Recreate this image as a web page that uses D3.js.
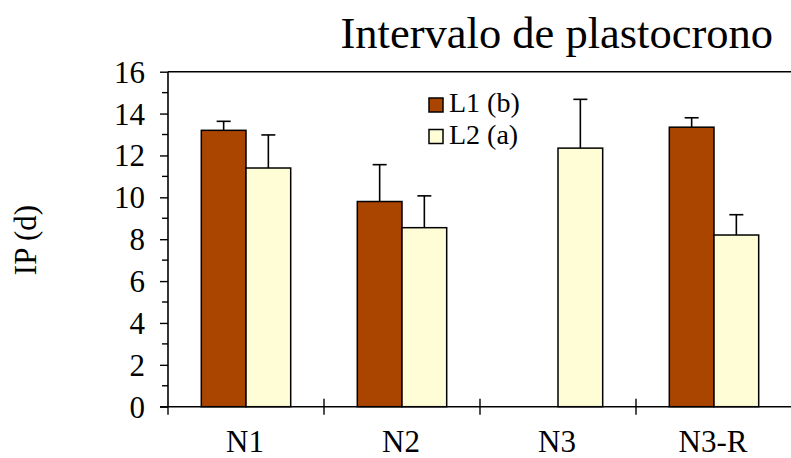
<!DOCTYPE html>
<html>
<head>
<meta charset="utf-8">
<script src="https://cdn.jsdelivr.net/npm/d3@7"></script>
<style>
  html, body { margin: 0; padding: 0; background: #fff; }
  svg { display: block; }
  text { font-family: "Liberation Serif", "Times New Roman", serif; fill: #000; }
</style>
</head>
<body>
<svg id="chart" width="791" height="458"></svg>
<script>
// Plastochron interval (days) per node group, two lines
const categories = ["N1", "N2", "N3", "N3-R"];
const seriesNames = ["L1 (b)", "L2 (a)"];
const l1Values = [13.2, 9.8, 0, 13.35];
const l2Values = [11.4, 8.55, 12.35, 8.2];
const l1Errors = [0.43, 1.76, 0, 0.45];
const l2Errors = [1.58, 1.52, 2.33, 0.97];
const yTicks = [0, 2, 4, 6, 8, 10, 12, 14, 16];
const yMinorTicks = [1, 3, 5, 7, 9, 11, 13, 15];
const colors = ["#AA4500", "#FFFDD6"];

const serif = "'Liberation Serif', 'Times New Roman', serif";
const svg = d3.select("#chart");

const plotLeft = 168, plotRight = 792, plotTop = 71.7, plotBottom = 406.7;

const x = d3.scaleBand().domain(categories).range([plotLeft, plotRight]).padding(0);
const y = d3.scaleLinear().domain([0, 16]).range([plotBottom, plotTop]);

const barW = x.bandwidth() * 0.2865;
const groupOffset = (x.bandwidth() - 2 * barW) / 2;

const rows = categories.map((c, i) => ({
  cat: c,
  vals: [
    { s: 0, v: l1Values[i], e: l1Errors[i] },
    { s: 1, v: l2Values[i], e: l2Errors[i] }
  ]
}));

// Title
svg.append("text")
  .attr("x", 773)
  .attr("y", 48)
  .attr("text-anchor", "end")
  .style("font-family", serif)
  .style("font-size", "44.5px")
  .text("Intervalo de plastocrono");

// Y axis label
svg.append("text")
  .attr("transform", "translate(36,240) rotate(-90)")
  .attr("text-anchor", "middle")
  .style("font-family", serif)
  .style("font-size", "31px")
  .text("IP (d)");

// Error bars (upper only), drawn beneath bars
const errG = svg.append("g").attr("stroke", "#000").attr("stroke-width", 1.6).attr("fill", "none");
rows.forEach(r => {
  r.vals.forEach(d => {
    if (d.e <= 0) return;
    const cx = x(r.cat) + groupOffset + d.s * barW + barW / 2;
    errG.append("line")
      .attr("x1", cx).attr("x2", cx)
      .attr("y1", y(d.v)).attr("y2", y(d.v + d.e));
    errG.append("line")
      .attr("x1", cx - 7).attr("x2", cx + 7)
      .attr("y1", y(d.v + d.e)).attr("y2", y(d.v + d.e));
  });
});

// Bars
const barG = svg.append("g");
rows.forEach(r => {
  r.vals.forEach(d => {
    barG.append("rect")
      .attr("x", x(r.cat) + groupOffset + d.s * barW)
      .attr("y", y(d.v))
      .attr("width", barW)
      .attr("height", y(0) - y(d.v))
      .attr("fill", colors[d.s])
      .attr("stroke", "#000")
      .attr("stroke-width", 1.5);
  });
});

// Top frame line
svg.append("line")
  .attr("x1", plotLeft).attr("x2", plotRight)
  .attr("y1", y(16)).attr("y2", y(16))
  .attr("stroke", "#000").attr("stroke-width", 1.6);

// Y axis
const yAxis = d3.axisLeft(y).tickValues(yTicks).tickSize(8).tickPadding(6).tickFormat(d3.format("d"));
const yg = svg.append("g").attr("transform", `translate(${plotLeft},0)`).call(yAxis);
yg.attr("font-family", null).attr("font-size", null);
yg.select(".domain").attr("stroke", "#000").attr("stroke-width", 1.6).attr("d", `M0,${y(16)}V${y(0)}`);
yg.selectAll(".tick line").attr("stroke", "#000").attr("stroke-width", 1.4);
yg.selectAll(".tick text")
  .style("font-family", serif)
  .style("font-size", "31px")
  .attr("dy", "0.34em")
  .attr("x", -23);
yg.selectAll(".minor")
  .data(yMinorTicks)
  .enter().append("line")
  .attr("class", "minor")
  .attr("x1", -6).attr("x2", 0)
  .attr("y1", d => y(d)).attr("y2", d => y(d))
  .attr("stroke", "#000").attr("stroke-width", 1.4);

// X axis
const xg = svg.append("g");
xg.append("line")
  .attr("x1", plotLeft - 8).attr("x2", plotRight)
  .attr("y1", y(0)).attr("y2", y(0))
  .attr("stroke", "#000").attr("stroke-width", 1.6);
categories.forEach((c, i) => {
  const bx = x(c);
  xg.append("line")
    .attr("x1", bx).attr("x2", bx)
    .attr("y1", i === 0 ? y(0) : y(0) - 8).attr("y2", y(0) + 8)
    .attr("stroke", "#000").attr("stroke-width", 1.4);
  xg.append("text")
    .attr("x", bx + x.bandwidth() / 2 - 1)
    .attr("y", 452)
    .attr("text-anchor", "middle")
    .style("font-family", serif)
    .style("font-size", "31px")
    .text(c);
});

// Legend
const legend = svg.append("g");
seriesNames.forEach((name, i) => {
  const ly = 98 + i * 31.5;
  legend.append("rect")
    .attr("x", 429).attr("y", ly)
    .attr("width", 14).attr("height", 14)
    .attr("fill", colors[i])
    .attr("stroke", "#000").attr("stroke-width", 1.5);
  legend.append("text")
    .attr("x", 449).attr("y", ly + 14)
    .style("font-family", serif)
    .style("font-size", "28px")
    .text(name);
});
</script>
</body>
</html>
